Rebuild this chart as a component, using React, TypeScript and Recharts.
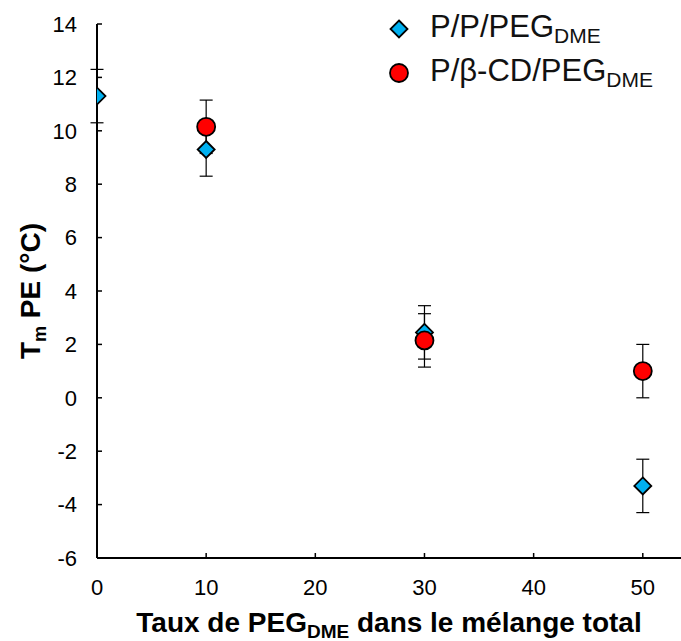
import {
  ScatterChart,
  Scatter,
  XAxis,
  YAxis,
  ErrorBar,
  Legend,
} from 'recharts'

// ── Data ──────────────────────────────────────────────────────────────────────

const X_TICKS = [0, 10, 20, 30, 40, 50]
const Y_TICKS = [-6, -4, -2, 0, 2, 4, 6, 8, 10, 12, 14]

const PP_X = [0, 10, 30, 50]
const PP_Y = [11.3, 9.3, 2.45, -3.3]
const PP_ERR = [1, 1, 1, 1]

const CD_X = [10, 30, 50]
const CD_Y = [10.15, 2.15, 1.0]
const CD_ERR = [1, 1, 1]

const ppData = PP_X.map((x, i) => ({ x, y: PP_Y[i], err: PP_ERR[i] }))
const cdData = CD_X.map((x, i) => ({ x, y: CD_Y[i], err: CD_ERR[i] }))

// ── Palette ───────────────────────────────────────────────────────────────────

const BLUE = '#00B0F0'
const RED = '#FF0000'
const FONT = '"Liberation Sans", Arial, sans-serif'

// ── Markers ───────────────────────────────────────────────────────────────────

function Diamond(props: any) {
  const { cx, cy } = props
  const r = 8.5
  return (
    <path
      d={`M${cx},${cy - r} L${cx + r},${cy} L${cx},${cy + r} L${cx - r},${cy} Z`}
      fill={BLUE}
      stroke="#000"
      strokeWidth={1.8}
    />
  )
}

function Dot(props: any) {
  const { cx, cy } = props
  return <circle cx={cx} cy={cy} r={9} fill={RED} stroke="#000" strokeWidth={1.8} />
}

// ── Legend ────────────────────────────────────────────────────────────────────

function LegendBox() {
  const row = { display: 'flex', alignItems: 'center', height: 44, fontFamily: FONT, fontSize: 31, color: '#111' }
  const sub = { fontSize: 21, verticalAlign: '-0.3em' as const }
  return (
    <div>
      <div style={row}>
        <svg width={30} height={30} style={{ marginRight: 16 }}>
          <Diamond cx={15} cy={15} />
        </svg>
        <span>P/P/PEG<span style={sub}>DME</span></span>
      </div>
      <div style={row}>
        <svg width={30} height={30} style={{ marginRight: 16 }}>
          <Dot cx={15} cy={15} />
        </svg>
        <span>P/β-CD/PEG<span style={sub}>DME</span></span>
      </div>
    </div>
  )
}

// ── Axis titles ───────────────────────────────────────────────────────────────

function XTitle({ viewBox }: any) {
  const cx = viewBox.x + viewBox.width / 2
  return (
    <text x={cx} y={viewBox.y + 74} textAnchor="middle" fontFamily={FONT} fontWeight="bold" fontSize={28} fill="#000">
      Taux de PEG<tspan fontSize={19} dy={6}>DME</tspan>
      <tspan dy={-6}> dans le mélange total</tspan>
    </text>
  )
}

function YTitle({ viewBox }: any) {
  const cy = viewBox.y + viewBox.height / 2
  const x = 40
  return (
    <text
      x={x}
      y={cy}
      transform={`rotate(-90, ${x}, ${cy})`}
      textAnchor="middle"
      fontFamily={FONT}
      fontWeight="bold"
      fontSize={28}
      fill="#000"
    >
      T<tspan fontSize={18} dy={6}>m</tspan>
      <tspan dy={-6}> PE (°C)</tspan>
    </text>
  )
}

// ── Chart ─────────────────────────────────────────────────────────────────────

export default function App() {
  const tick = { fontSize: 22, fill: '#000', fontFamily: FONT }
  return (
    <div style={{ position: 'absolute', left: 0, top: 0, background: '#fff' }}>
      <ScatterChart width={681} height={641} margin={{ top: 24, right: 0, left: 0, bottom: 0 }}>
        <XAxis
          type="number"
          dataKey="x"
          domain={[0, 53.5]}
          allowDataOverflow
          ticks={X_TICKS}
          height={83}
          tick={tick}
          tickSize={-5}
          tickMargin={26}
          axisLine={{ stroke: '#000', strokeWidth: 2 }}
          tickLine={{ stroke: '#000', strokeWidth: 1.5 }}
          label={{ content: XTitle } as any}
        />
        <YAxis
          type="number"
          dataKey="y"
          domain={[-6, 14]}
          ticks={Y_TICKS}
          width={97}
          tick={tick}
          tickSize={-5}
          tickMargin={25}
          axisLine={{ stroke: '#000', strokeWidth: 2 }}
          tickLine={{ stroke: '#000', strokeWidth: 1.5 }}
          label={{ content: YTitle } as any}
        />
        <Legend
          layout="vertical"
          align="center"
          verticalAlign="middle"
          wrapperStyle={{ position: 'absolute', top: 7, left: 384, width: 300 }}
          content={() => <LegendBox />}
        />
        <Scatter data={ppData} shape={<Diamond />} isAnimationActive={false}>
          <ErrorBar dataKey="err" direction="y" width={6.5} stroke="#000" strokeWidth={1.2} />
        </Scatter>
        <Scatter data={cdData} shape={<Dot />} isAnimationActive={false}>
          <ErrorBar dataKey="err" direction="y" width={6.5} stroke="#000" strokeWidth={1.2} />
        </Scatter>
      </ScatterChart>
    </div>
  )
}
